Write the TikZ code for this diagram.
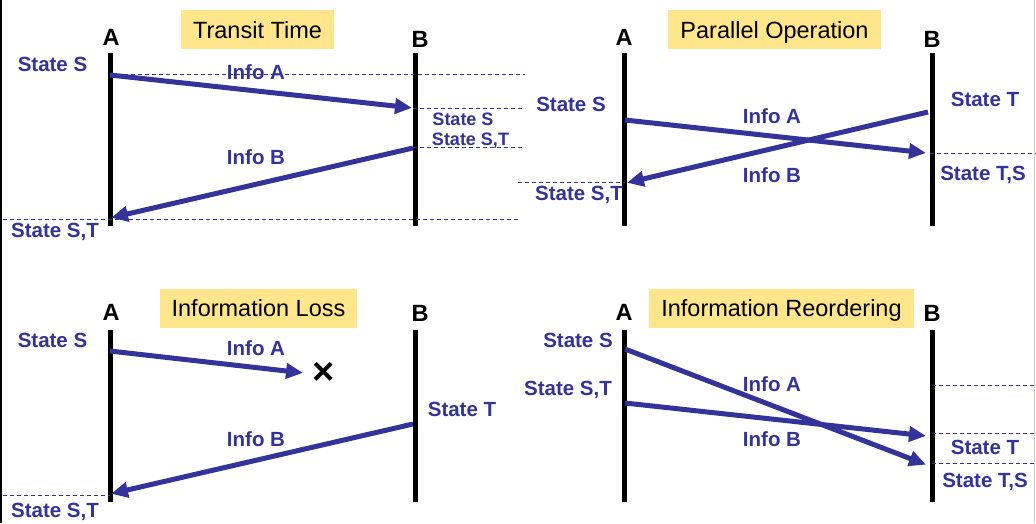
\documentclass[tikz,border=0pt]{standalone}
\usepackage{fontspec}
\setmainfont{Liberation Sans}
\usetikzlibrary{arrows.meta}
\definecolor{dblue}{RGB}{51,51,153}
\definecolor{tyellow}{RGB}{255,230,140}
\tikzset{
  lifeline/.style={line width=5pt,black},
  msg/.style={line width=5pt,dblue,-{Triangle[length=17pt,width=15pt]},shorten >=1pt},
  tline/.style={dblue,line width=0.9pt,dash pattern=on 4pt off 3pt},
  title/.style={fill=tyellow,inner xsep=12pt,inner ysep=0pt,minimum height=39pt,text height=20pt,text depth=3pt,font=\fontsize{23.5}{26}\selectfont,text=black},
  ab/.style={font=\fontsize{23.5}{26}\selectfont\bfseries,text=black,inner sep=0pt},
  lbl/.style={font=\fontsize{20.5}{23}\selectfont\bfseries,text=dblue,inner sep=0pt},
  slbl/.style={font=\fontsize{18}{20}\selectfont\bfseries,text=dblue,inner sep=0pt},
}
\begin{document}
\begin{tikzpicture}[x=1pt,y=-1pt]
\useasboundingbox[fill=white] (0,0) rectangle (1036,523);
\draw[black,line width=1.5pt] (0.75,0) -- (0.75,523);
\draw[gray!40,line width=1pt] (1034.5,0) -- (1034.5,523);

% ===== Panel 1: Transit Time =====
\node[title] (t1) at (257.5,29.5) {Transit Time};
\node[ab] (a1) at (111,37) {A};
\node[ab] (b1) at (420,39) {B};
\coordinate (a1t) at (110,53); \coordinate (a1b) at (110,226);
\coordinate (b1t) at (415,53); \coordinate (b1b) at (415,226);
\draw[lifeline] (a1t) -- (a1b);
\draw[lifeline] (b1t) -- (b1b);
\coordinate (d1a) at (110,74); \coordinate (d1ae) at (525,74);
\coordinate (d1b) at (413,108); \coordinate (d1be) at (525,108);
\coordinate (d1c) at (413,147); \coordinate (d1ce) at (525,147);
\coordinate (d1d) at (3,219); \coordinate (d1de) at (519,219);
\draw[tline] (d1a) -- (d1ae);
\draw[tline] (d1b) -- (d1be);
\draw[tline] (d1c) -- (d1ce);
\draw[tline] (d1d) -- (d1de);
\node[lbl] (s1a) at (52.5,64) {State S};
\node[lbl] (i1a) at (256,72) {Info A};
\node[slbl] (s1b) at (463,119) {State S};
\node[slbl] (s1c) at (470.5,141) {State S,T};
\node[lbl] (i1b) at (256,157) {Info B};
\node[lbl] (s1d) at (55,232) {State S,T};
\coordinate (m1as) at (110,75); \coordinate (m1ae) at (413,108);
\coordinate (m1bs) at (413,148); \coordinate (m1be) at (110,218);
\draw[msg] (m1as) -- (m1ae);
\draw[msg] (m1bs) -- (m1be);

% ===== Panel 2: Parallel Operation =====
\node[title] (t2) at (774.5,29.5) {Parallel Operation};
\node[ab] (a2) at (624,37) {A};
\node[ab] (b2) at (932,39) {B};
\coordinate (a2t) at (624,53); \coordinate (a2b) at (624,226);
\coordinate (b2t) at (932,53); \coordinate (b2b) at (932,226);
\draw[lifeline] (a2t) -- (a2b);
\draw[lifeline] (b2t) -- (b2b);
\coordinate (d2a) at (930,153); \coordinate (d2ae) at (1036,153);
\coordinate (d2b) at (518,182); \coordinate (d2be) at (625,182);
\draw[tline] (d2a) -- (d2ae);
\draw[tline] (d2b) -- (d2be);
\node[lbl] (s2a) at (571,104) {State S};
\node[lbl] (s2b) at (985,99) {State T};
\node[lbl] (i2a) at (772,116) {Info A};
\node[lbl] (i2b) at (772,175) {Info B};
\node[lbl] (s2c) at (579,195) {State S,T};
\node[lbl] (s2d) at (983,175) {State T,S};
\coordinate (m2as) at (625,120); \coordinate (m2ae) at (927,153);
\coordinate (m2bs) at (928,112); \coordinate (m2be) at (626,183);
\draw[msg] (m2as) -- (m2ae);
\draw[msg] (m2bs) -- (m2be);

% ===== Panel 3: Information Loss =====
\node[title] (t3) at (258.5,308) {Information Loss};
\node[ab] (a3) at (111,312) {A};
\node[ab] (b3) at (420,313) {B};
\coordinate (a3t) at (110,330); \coordinate (a3b) at (110,502);
\coordinate (b3t) at (415,330); \coordinate (b3b) at (415,502);
\draw[lifeline] (a3t) -- (a3b);
\draw[lifeline] (b3t) -- (b3b);
\coordinate (d3a) at (3,495); \coordinate (d3ae) at (110,495);
\draw[tline] (d3a) -- (d3ae);
\node[lbl] (s3a) at (52.5,340) {State S};
\node[lbl] (i3a) at (256,348) {Info A};
\node[font=\fontsize{38}{40}\selectfont\bfseries,inner sep=0pt] (x3) at (324,373) {×};
\node[lbl] (s3b) at (462,409) {State T};
\node[lbl] (i3b) at (256,439) {Info B};
\node[lbl] (s3c) at (55,512) {State S,T};
\coordinate (m3as) at (110,351); \coordinate (m3ae) at (304,373);
\draw[msg] (m3as) -- (m3ae);
\coordinate (m3bs) at (413,424); \coordinate (m3be) at (110,494);
\draw[msg] (m3bs) -- (m3be);

% ===== Panel 4: Information Reordering =====
\node[title] (t4) at (781.5,308) {Information Reordering};
\node[ab] (a4) at (624,312) {A};
\node[ab] (b4) at (932,313) {B};
\coordinate (a4t) at (624,330); \coordinate (a4b) at (624,502);
\coordinate (b4t) at (932,330); \coordinate (b4b) at (932,502);
\draw[lifeline] (a4t) -- (a4b);
\draw[lifeline] (b4t) -- (b4b);
\coordinate (d4a) at (932,385); \coordinate (d4ae) at (1036,385);
\coordinate (d4b) at (932,433); \coordinate (d4be) at (1036,433);
\coordinate (d4c) at (932,463); \coordinate (d4ce) at (1036,463);
\draw[tline] (d4a) -- (d4ae);
\draw[tline] (d4b) -- (d4be);
\draw[tline] (d4c) -- (d4ce);
\node[lbl] (s4a) at (578,340) {State S};
\node[lbl] (s4b) at (568,390) {State S,T};
\node[lbl] (i4a) at (772,384) {Info A};
\node[lbl] (i4b) at (772,439) {Info B};
\node[lbl] (s4c) at (985,447) {State T};
\node[lbl] (s4d) at (985,482) {State T,S};
\coordinate (m4as) at (625,349); \coordinate (m4ae) at (927,465);
\coordinate (m4bs) at (625,403); \coordinate (m4be) at (927,436);
\draw[msg] (m4as) -- (m4ae);
\draw[msg] (m4bs) -- (m4be);
\end{tikzpicture}
\end{document}
